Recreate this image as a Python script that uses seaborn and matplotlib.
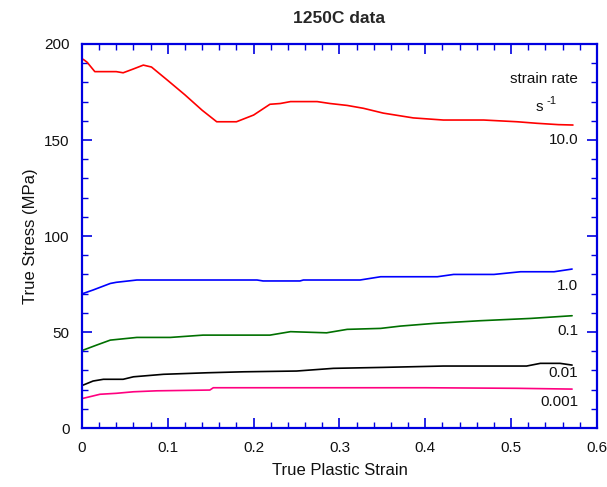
import matplotlib
matplotlib.use("Agg")
import matplotlib.pyplot as plt
from matplotlib.ticker import MultipleLocator
import numpy as np
import pandas as pd
import seaborn as sns

# Flow curves at 1250C for five strain rates (s^-1)
strain_10 = [0.0015, 0.006, 0.015, 0.03, 0.04, 0.048, 0.06, 0.0715, 0.081, 0.10, 0.12, 0.14,
             0.157, 0.18, 0.20, 0.219, 0.231, 0.243, 0.274, 0.289, 0.309, 0.328, 0.351,
             0.386, 0.421, 0.468, 0.507, 0.530, 0.555, 0.572]
stress_10 = [192.0, 190.5, 185.6, 185.6, 185.6, 185.0, 187.0, 189.0, 188.0, 181.0, 173.5, 165.5,
             159.5, 159.5, 163.0, 168.6, 169.0, 170.0, 170.0, 169.0, 168.0, 166.5, 164.0,
             161.5, 160.4, 160.4, 159.5, 158.7, 158.0, 157.8]

strain_1 = [0.0015, 0.013, 0.033, 0.04, 0.064, 0.204, 0.211, 0.254, 0.258, 0.324, 0.348,
            0.414, 0.433, 0.480, 0.511, 0.550, 0.571]
stress_1 = [70.1, 71.9, 75.3, 75.9, 77.1, 77.1, 76.6, 76.6, 77.1, 77.1, 78.8,
            78.8, 80.0, 80.0, 81.4, 81.4, 82.8]

strain_01 = [0.0015, 0.017, 0.033, 0.064, 0.103, 0.141, 0.219, 0.243, 0.285, 0.309, 0.348,
             0.371, 0.410, 0.464, 0.523, 0.571]
stress_01 = [40.6, 43.2, 45.8, 47.2, 47.2, 48.4, 48.4, 50.2, 49.6, 51.4, 51.9,
             53.1, 54.5, 55.9, 57.1, 58.5]

strain_001 = [0.0015, 0.013, 0.025, 0.048, 0.060, 0.095, 0.146, 0.188, 0.250, 0.293, 0.351,
              0.421, 0.518, 0.534, 0.557, 0.571]
stress_001 = [22.4, 24.5, 25.4, 25.4, 26.7, 28.0, 28.8, 29.3, 29.7, 31.1, 31.6,
              32.3, 32.3, 33.7, 33.7, 32.8]

strain_0001 = [0.0015, 0.009, 0.021, 0.040, 0.060, 0.087, 0.149, 0.153, 0.192, 0.30, 0.40,
               0.507, 0.571]
stress_0001 = [15.5, 16.3, 17.6, 18.1, 18.9, 19.4, 19.8, 21.0, 21.0, 21.0, 21.0,
               20.7, 20.3]

rate_labels = ["10.0", "1.0", "0.1", "0.01", "0.001"]
label_y = [150.0, 74.0, 50.5, 28.6, 13.7]
colors = ["#ff0000", "#0000ff", "#007000", "#000000", "#ff0080"]
x_tick_labels = ["0", "0.1", "0.2", "0.3", "0.4", "0.5", "0.6"]

series = [(strain_10, stress_10), (strain_1, stress_1), (strain_01, stress_01),
          (strain_001, stress_001), (strain_0001, stress_0001)]

frames = []
for lab, (x, y) in zip(rate_labels, series):
    frames.append(pd.DataFrame({"strain": x, "stress": y, "rate": lab}))
df = pd.concat(frames, ignore_index=True)

sns.set_theme(style="white")
plt.rcParams["font.family"] = ["Liberation Sans", "DejaVu Sans"]

fig = plt.figure(figsize=(6.07, 4.87), dpi=100)
ax = fig.add_axes([0.135, 0.121, 0.8485, 0.7887])

sns.lineplot(data=df, x="strain", y="stress", hue="rate", hue_order=rate_labels,
             palette=colors, linewidth=1.2, legend=False, ax=ax, sort=False)

ax.set_xlim(0, 0.6)
ax.set_ylim(0, 200)
ax.xaxis.set_minor_locator(MultipleLocator(0.02))
ax.yaxis.set_major_locator(MultipleLocator(50))
ax.yaxis.set_minor_locator(MultipleLocator(10))
ax.set_xticks(np.arange(0, 0.61, 0.1))
ax.set_xticklabels(x_tick_labels)

for side in ["left", "right", "top", "bottom"]:
    ax.spines[side].set_visible(True)
    ax.spines[side].set_color("#0000e0")
    ax.spines[side].set_linewidth(1.6)

ax.tick_params(which="both", direction="in", top=True, right=True, bottom=True, left=True,
               color="#0000e0", labelsize=11, labelcolor="#111111")
ax.tick_params(which="major", length=7, width=1.2, pad=9)
ax.tick_params(which="minor", length=4, width=1.0)

ax.set_xlabel("True Plastic Strain", fontsize=12, color="#111111", labelpad=6)
ax.set_ylabel("True Stress (MPa)", fontsize=12, color="#111111", labelpad=4)
ax.set_title("1250C data", fontsize=12.5, fontweight="bold", pad=15)

# Strain-rate annotations
ax.text(0.578, 182, "strain rate", fontsize=11, ha="right", va="center", color="#111111")
ax.text(0.533, 167, "s", fontsize=11, ha="center", va="center", color="#111111")
ax.text(0.541, 170.5, "-1", fontsize=8, ha="left", va="center", color="#111111")
for lab, yv in zip(rate_labels, label_y):
    ax.text(0.578, yv, lab, fontsize=11, ha="right", va="center", color="#111111")

fig.savefig("out.png", dpi=100)
